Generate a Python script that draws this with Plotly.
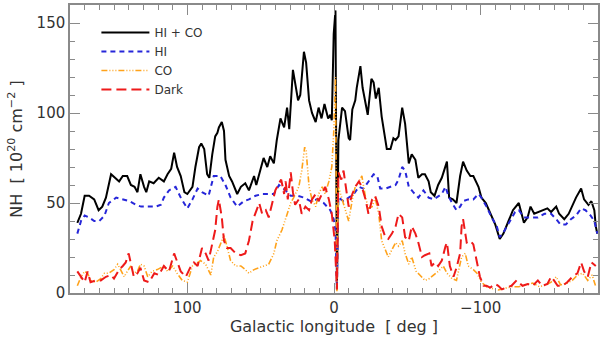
import plotly.graph_objects as go

# HI + CO (total)
lon_tot = [175, 172.5, 170, 167, 163.5, 160.5, 158, 155.5, 152, 149,
           146.5, 144, 141, 138.5, 136, 134, 132, 129.5, 128, 126,
           123, 119.5, 116, 113.5, 111, 109, 107, 104.5, 102, 100,
           96.5, 94.5, 92, 90.5, 88.5, 86.5, 85, 83, 81, 79.5,
           78.5, 76.5, 75, 74, 71.5, 69.5, 66, 63.5, 60.5, 58,
           54.5, 53, 50, 48, 45.5, 43.5, 41, 39, 36.5, 34,
           32, 30.5, 28, 26.5, 24.5, 23, 20.5, 19, 17, 15,
           12.5, 10.5, 8.5, 6.5, 4, 2.5, 1.5, 0.2, -1, -2,
           -3, -5.5, -7.5, -10, -11, -12.5, -14.5, -15.5, -18, -19.5,
           -21.5, -23, -25.5, -27, -28.5, -30.5, -32.5, -34, -36, -38.5,
           -40.5, -42, -44, -46.5, -48.5, -51, -53, -55.5, -57.5, -60,
           -62, -64.5, -66, -68.5, -71, -73.5, -76, -77, -78.5, -81,
           -83.5, -86, -88, -90.5, -93, -95, -98.5, -100.5, -103.5, -106.5,
           -110, -113, -115.5, -119, -122, -126, -129.5, -132, -134, -136.5,
           -140, -143.5, -145.5, -148, -151.5, -153.5, -157, -160, -162.5, -165,
           -168.5, -170.5, -173.5, -175.5, -177.5, -178.5, -179.5]
nh_tot = [39, 44, 54, 54, 52, 46, 48, 53, 66, 64,
          62, 65, 65, 60, 59, 56, 66, 59, 56, 62,
          61, 64, 62, 66, 69, 78, 70, 65, 56, 55,
          59, 70, 81, 83, 80, 66, 64, 77, 87, 89,
          92, 95, 90, 74, 65, 62, 55, 59, 61, 57,
          65, 60, 69, 75, 70, 76, 72, 85, 97, 92,
          103, 91, 124, 116, 107, 110, 134, 128, 107, 100,
          95, 103, 97, 105, 97, 99, 96, 144, 157, 2,
          85, 103, 101, 86, 85, 102, 107, 114, 126, 114,
          104, 99, 119, 117, 108, 114, 98, 89, 80, 80,
          86, 85, 87, 103, 94, 72, 77, 74, 64, 66,
          66, 62, 56, 54, 60, 64, 71, 73, 53, 52,
          50, 65, 73, 68, 65, 65, 59, 53, 50, 44,
          38, 30, 33, 40, 46, 50, 39, 42, 48, 44,
          45, 46, 47, 45, 48, 44, 41, 44, 49, 53,
          58, 52, 49, 51, 46, 37, 33]

# HI
lon_hi = [175, 172.5, 170, 167, 163.5, 160, 156.5, 153.5, 148.5, 144,
          139.5, 135, 131.5, 127, 121.5, 118, 116, 112.5, 108, 104.5,
          100, 96.5, 93, 90, 85.5, 82, 77.5, 74, 70.5, 66,
          61.5, 58, 53.5, 49, 44.5, 41, 37.5, 33, 29.5, 25,
          20.5, 16, 11.5, 7, 2.5, 0.2, -1, -2, -3, -6.5,
          -10, -13.5, -17, -20, -24.5, -27, -29.5, -31.5, -35, -38.5,
          -42, -44, -46.5, -48.5, -51, -54, -57.5, -61, -64.5, -68,
          -70, -73.5, -76, -78, -80.5, -83.5, -86, -88, -91.5, -95,
          -98.5, -100.5, -104, -107.5, -111, -113, -116.5, -120, -123.5, -126,
          -129.5, -134, -139, -143.5, -148, -151.5, -154.5, -158, -161.5, -165,
          -168.5, -171.5, -175, -177.5, -179.5]
nh_hi = [33, 40, 43, 42, 40, 40, 43, 50, 53, 52,
         51, 49, 48, 48, 48, 49, 53, 57, 59, 53,
         47, 52, 58, 56, 54, 65, 65, 60, 53, 48,
         51, 52, 54, 55, 55, 55, 60, 57, 54, 54,
         53, 51, 52, 50, 46, 41, 35, 3, 53, 51,
         53, 55, 59, 58, 63, 66, 65, 58, 58, 59,
         60, 63, 70, 68, 59, 56, 53, 57, 53, 52,
         53, 55, 59, 54, 50, 46, 48, 51, 52, 52,
         55, 53, 48, 42, 37, 31, 35, 40, 45, 46,
         42, 42, 42, 44, 44, 41, 38, 38, 41, 43,
         47, 46, 43, 40, 33]

# CO
lon_co = [175, 172.5, 170, 168, 166, 162.5, 159, 156.5, 153.5, 150,
          147.5, 145.5, 143, 141, 138.5, 136.5, 134, 132, 129.5, 127,
          124, 120.5, 116, 113.5, 110, 107, 103.5, 100, 96.5, 94.5,
          91, 87.5, 84, 82, 79.5, 77.5, 75, 73, 70.5, 67,
          63.5, 60.5, 58, 54.5, 51, 48, 44.5, 41, 39, 35.5,
          32, 29.5, 27.5, 24, 22, 20, 19, 17, 15, 12.5,
          10.5, 8, 6, 3.5, 1.5, 0.2, -1, -2, -3, -5.5,
          -7.5, -10, -12.5, -14.5, -17, -19, -21.5, -23.5, -26, -28,
          -30.5, -32.5, -35, -37, -39.5, -42, -44, -46.5, -48.5, -51,
          -53, -56, -58.5, -62, -65, -68, -71, -74.5, -77, -80.5,
          -83.5, -87, -89.5, -91.5, -95, -97.5, -100.5, -104, -107.5, -112,
          -116.5, -121, -126, -131, -135.5, -140, -144.5, -148, -151.5, -154.5,
          -159, -162.5, -166, -169.5, -173, -176, -178.5]
nh_co = [4, 9, 12, 11, 7, 6, 8, 11, 11, 13,
         16, 13, 9, 12, 15, 11, 12, 16, 15, 9,
         12, 13, 15, 12, 15, 11, 7, 6, 15, 16,
         18, 16, 10, 20, 23, 27, 32, 26, 18, 15,
         15, 13, 11, 13, 14, 15, 16, 22, 29, 35,
         44, 50, 53, 59, 68, 81, 79, 59, 52, 48,
         55, 59, 55, 62, 70, 89, 120, 1, 59, 52,
         47, 40, 52, 59, 62, 65, 53, 47, 48, 53,
         44, 29, 24, 20, 24, 28, 26, 29, 22, 16,
         20, 12, 10, 7, 8, 10, 12, 15, 11, 8,
         7, 20, 22, 15, 13, 11, 6, 3.5, 2.5, 1.7,
         2.5, 3.5, 3.5, 4.5, 5.5, 3.5, 4.5, 6, 9, 4.5,
         5.5, 7, 10, 11, 7, 10, 3.5]

# Dark gas
lon_dk = [175, 172.5, 170, 168, 166, 162.5, 159, 155.5, 152, 150,
          146.5, 144, 142, 140, 138.5, 136.5, 134, 132, 129.5, 126,
          122.5, 119.5, 116, 112.5, 109, 107, 104.5, 101, 97.5, 95.5,
          93, 90, 87.5, 85.5, 83, 81, 79.5, 78.5, 76.5, 75,
          73, 70.5, 67, 63.5, 60.5, 58, 55.5, 53.5, 51, 49,
          46.5, 44.5, 42, 40, 37.5, 36, 34, 33, 31.5, 29.5,
          28, 26.5, 24, 22, 19.5, 17, 15, 12.5, 10.5, 8,
          6, 3.5, 1.5, -0.5, -2, -3, -5, -6.5, -8, -10,
          -12.5, -14.5, -17, -19, -21.5, -23.5, -26, -28, -30.5, -32.5,
          -35, -37, -39.5, -42, -44, -46.5, -48.5, -51, -53, -55.5,
          -57.5, -60, -62, -65, -66.5, -69, -71, -73.5, -76, -77,
          -79, -81.5, -83.5, -86, -87, -88, -90.5, -93, -95, -97.5,
          -99.5, -102, -104, -106.5, -110, -112, -114.5, -117.5, -121, -124.5,
          -128.5, -132, -135.5, -139, -142, -145.5, -148, -150, -152.5, -156,
          -159, -162.5, -166, -168.5, -170.5, -173, -175.5, -178.5]
nh_dk = [12, 9, 6, 12, 6, 7, 7, 9, 10, 8,
         13, 15, 17, 22, 17, 9, 11, 14, 7, 6,
         11, 10, 15, 12, 22, 17, 12, 9, 15, 17,
         15, 25, 22, 18, 28, 35, 48, 52, 42, 29,
         25, 25, 22, 21, 22, 29, 40, 44, 50, 44,
         46, 42, 50, 57, 61, 63, 55, 62, 52, 67,
         56, 49, 52, 44, 48, 46, 52, 55, 51, 55,
         59, 52, 44, 29, 2, 67, 63, 68, 59, 48,
         55, 59, 62, 59, 52, 44, 52, 54, 48, 37,
         31, 30, 33, 37, 44, 42, 31, 29, 37, 33,
         28, 20, 21, 22, 15, 17, 15, 18, 26, 28,
         15, 9, 14, 22, 37, 41, 28, 29, 27, 18,
         9, 4, 4, 3, 5, 4, 2, 3, 4, 7,
         4, 5, 4, 7, 4, 5, 9, 7, 4, 4,
         6, 9, 11, 17, 12, 9, 17, 15]

FONT = "DejaVu Sans"
TXT = "#333333"
AX = "#8a8a8a"

fig = go.Figure()
fig.add_trace(go.Scatter(x=lon_tot, y=nh_tot, mode="lines", name="HI + CO",
                         line=dict(color="black", width=2)))
fig.add_trace(go.Scatter(x=lon_hi, y=nh_hi, mode="lines", name="HI",
                         line=dict(color="#2626d9", width=2, dash="5px,4px")))
fig.add_trace(go.Scatter(x=lon_co, y=nh_co, mode="lines", name="CO",
                         line=dict(color="#ffa21a", width=1.6,
                                   dash="6px,2px,1px,2px,1px,2px,1px,2px")))
fig.add_trace(go.Scatter(x=lon_dk, y=nh_dk, mode="lines", name="Dark",
                         line=dict(color="#ee1a1a", width=2, dash="10px,5px")))

axis_common = dict(showgrid=False, zeroline=False, showline=True, mirror="ticks",
                   linecolor=AX, linewidth=1.5, ticks="inside", tickcolor=AX,
                   ticklen=10, tickwidth=1.2, automargin=False,
                   tickfont=dict(family=FONT, size=15, color=TXT))

fig.update_xaxes(range=[180, -180], tick0=0, dtick=100,
                 minor=dict(dtick=10, ticks="inside", ticklen=5, tickcolor=AX),
                 title=dict(text="Galactic longitude  [ deg ]", standoff=4,
                            font=dict(family=FONT, size=16, color=TXT)),
                 **axis_common)
fig.update_yaxes(range=[0, 160], tick0=0, dtick=50,
                 minor=dict(dtick=10, ticks="inside", ticklen=5, tickcolor=AX),
                 title=dict(text="NH  [ 10<sup>20</sup> cm<sup>−2</sup> ]", standoff=10,
                            font=dict(family=FONT, size=16, color=TXT)),
                 **axis_common)

fig.update_layout(
    width=600, height=344,
    margin=dict(l=70, r=2, t=5, b=51),
    plot_bgcolor="white", paper_bgcolor="white",
    showlegend=True,
    legend=dict(x=0.05, y=0.955, xanchor="left", yanchor="top",
                bgcolor="rgba(0,0,0,0)", tracegroupgap=0, itemwidth=48,
                font=dict(family=FONT, size=12, color=TXT)),
)

# page body has an 8px default margin; drop it so the figure sits at 0,0
fig.write_html("out.html", config={"displayModeBar": False},
               post_script="document.body.style.margin='0';")
